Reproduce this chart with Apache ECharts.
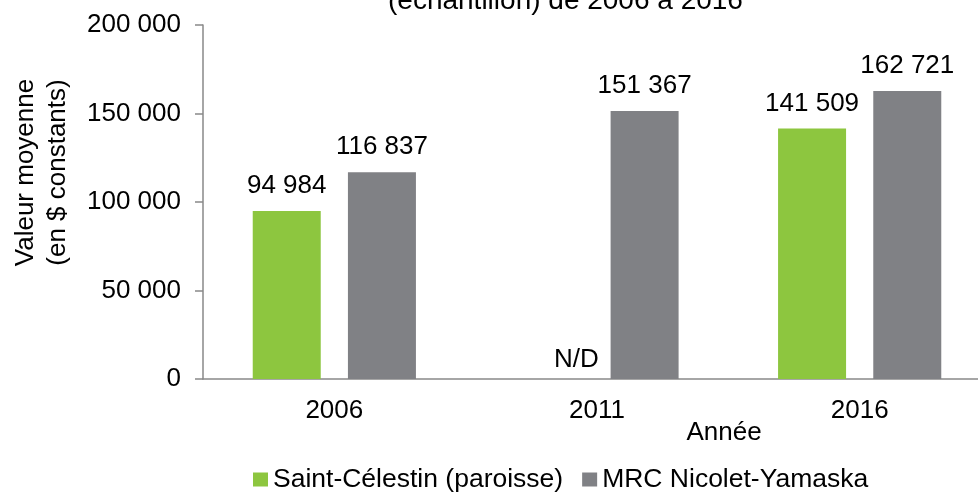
<!DOCTYPE html>
<html>
<head>
<meta charset="utf-8">
<script src="https://cdn.jsdelivr.net/npm/echarts@6/dist/echarts.min.js"></script>
<style>
  html, body { margin: 0; padding: 0; overflow: hidden; background: #fff; }
  #chart { width: 978px; height: 492px; }
</style>
</head>
<body>
<div id="chart"></div>
<script>
// donnees
var annees = ["2006", "2011", "2016"];
var saintCelestin = [94984, null, 141509];
var mrcNicolet = [116837, 151367, 162721];
var yTicks = [0, 50000, 100000, 150000, 200000];

var vert = "#8dc63f";
var gris = "#808185";
var police = "Liberation Sans, Arial, sans-serif";
var taille = 26;

function milliers(v) {
  return String(v).replace(/\B(?=(\d{3})+(?!\d))/g, " ");
}

var chartDom = document.getElementById("chart");
var myChart = echarts.init(chartDom);
var option;

var dataVert = saintCelestin.map(function (v) {
  if (v === null) {
    // pas de donnee en 2011
    return { value: 0, label: { formatter: "N/D", distance: 6, offset: [27, 0] } };
  }
  return v;
});

option = {
  animation: false,
  textStyle: { fontFamily: police, color: "#000" },
  title: {
    text: "(échantillon) de 2006 à 2016",
    left: 388,
    top: -13,
    padding: 0,
    textStyle: { fontFamily: police, fontSize: 28, fontWeight: "normal", color: "#000" }
  },
  // le graphique d'origine est coupe a droite
  grid: { left: 203, width: 788, top: 25, bottom: 113, containLabel: false, outerBoundsMode: "none" },
  legend: {
    left: 248,
    top: 461,
    itemWidth: 15,
    itemHeight: 14,
    itemGap: 19,
    textStyle: { fontFamily: police, fontSize: 26.5, color: "#000" },
    data: [
      { name: "Saint-Célestin (paroisse)", icon: "rect" },
      { name: "MRC Nicolet-Yamaska", icon: "rect" }
    ]
  },
  xAxis: {
    type: "category",
    data: annees,
    name: "Année",
    nameLocation: "middle",
    nameGap: 41,
    nameMoveOverlap: false,
    nameTextStyle: { fontSize: taille, color: "#000", padding: [0, 0, 0, 254] },
    axisLine: { lineStyle: { color: "#898989", width: 1.5 } },
    axisTick: { show: false },
    axisLabel: { fontSize: taille, color: "#000", margin: 19 }
  },
  yAxis: {
    type: "value",
    min: yTicks[0],
    max: yTicks[yTicks.length - 1],
    interval: yTicks[1] - yTicks[0],
    name: "Valeur moyenne\n(en $ constants)",
    nameLocation: "middle",
    nameGap: 129,
    nameMoveOverlap: false,
    nameTextStyle: { fontSize: taille, lineHeight: 32, color: "#000", padding: [0, 0, 0, 59] },
    axisLine: { show: true, lineStyle: { color: "#898989", width: 1.5 } },
    axisTick: { show: true, inside: false, length: 8, lineStyle: { color: "#898989", width: 1.5 } },
    splitLine: { show: false },
    axisLabel: {
      fontSize: taille,
      color: "#000",
      margin: 22,
      formatter: function (v) { return milliers(v); }
    }
  },
  series: [
    {
      name: "Saint-Célestin (paroisse)",
      type: "bar",
      barWidth: 68,
      barGap: "40%",
      itemStyle: { color: vert },
      label: {
        show: true,
        position: "top",
        distance: 12,
        fontSize: taille,
        color: "#000",
        formatter: function (p) { return milliers(p.value); }
      },
      data: dataVert
    },
    {
      name: "MRC Nicolet-Yamaska",
      type: "bar",
      barWidth: 68,
      barGap: "40%",
      itemStyle: { color: gris },
      label: {
        show: true,
        position: "top",
        distance: 12,
        fontSize: taille,
        color: "#000",
        formatter: function (p) { return milliers(p.value); }
      },
      data: mrcNicolet
    }
  ]
};

option && myChart.setOption(option);
</script>
</body>
</html>
